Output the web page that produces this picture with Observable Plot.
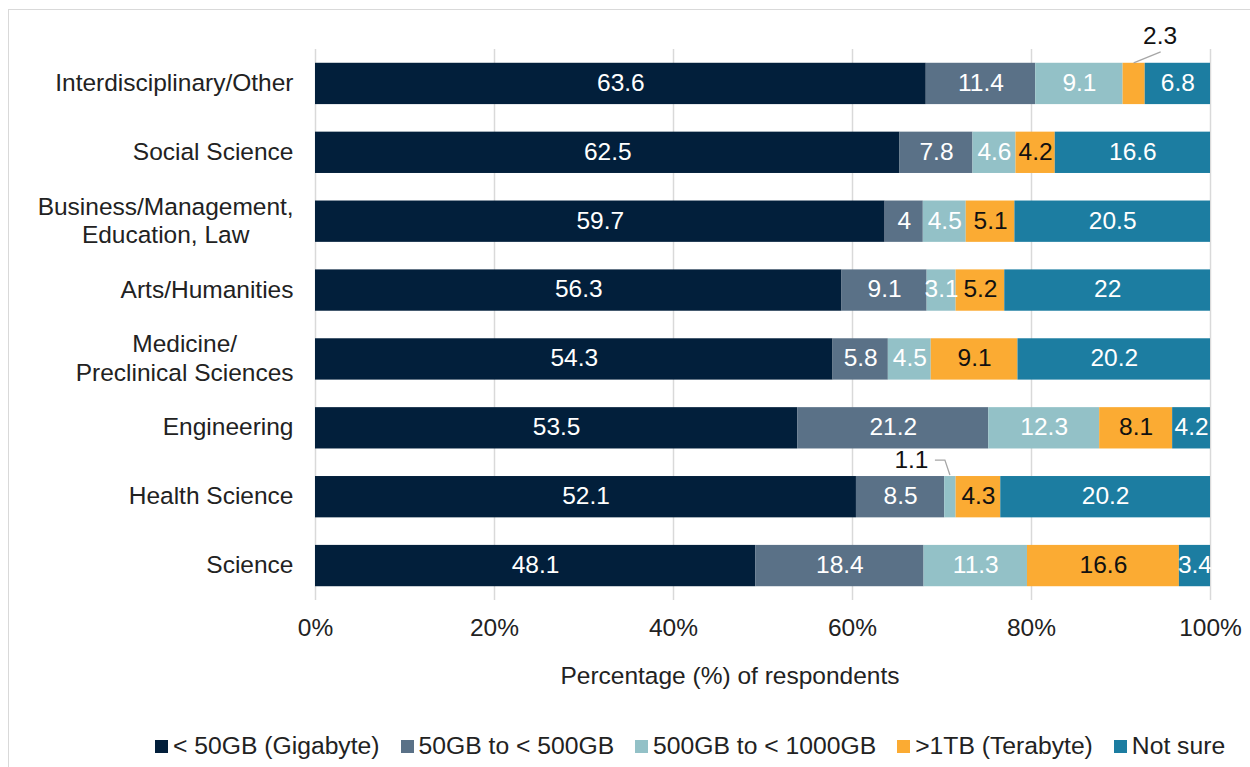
<!DOCTYPE html>
<html>
<head>
<meta charset="utf-8">
<script src="https://cdn.jsdelivr.net/npm/d3@7"></script>
<script src="https://cdn.jsdelivr.net/npm/@observablehq/plot@0.6"></script>
<style>
  html, body { margin: 0; padding: 0; background: #fff; overflow: hidden; }
  body { font-family: "Liberation Sans", Arial, sans-serif; width: 1250px; height: 767px; position: relative; }
  #frame { position: absolute; left: 8px; top: 9px; width: 1300px; height: 800px; border: 1px solid #d9d9d9; pointer-events: none; }
  #legend { height: 30px; margin-top: 26px; padding-left: 155px; display: flex; align-items: center;
            font-size: 24.7px; color: #222; white-space: nowrap; }
  .item { display: flex; align-items: center; margin-right: 21px; }
  .sw { width: 13px; height: 13px; margin-right: 5px; flex: none; }
</style>
</head>
<body>
<div id="chart"></div>
<div id="legend"></div>
<div id="frame"></div>
<script>
// ---- data ----
const categories = [
  "Interdisciplinary/Other",
  "Social Science",
  "Business/Management,\nEducation, Law",
  "Arts/Humanities",
  "Medicine/\nPreclinical Sciences",
  "Engineering",
  "Health Science",
  "Science"
];
const seriesNames = ["< 50GB (Gigabyte)", "50GB to < 500GB", "500GB to < 1000GB", ">1TB (Terabyte)", "Not sure"];
const under50GB   = [63.6, 62.5, 59.7, 56.3, 54.3, 53.5, 52.1, 48.1];
const gb50to500   = [11.4, 7.8, 4, 9.1, 5.8, 21.2, 8.5, 18.4];
const gb500to1000 = [9.1, 4.6, 4.5, 3.1, 4.5, 12.3, 1.1, 11.3];
const over1TB     = [2.3, 4.2, 5.1, 5.2, 9.1, 8.1, 4.3, 16.6];
const notSure     = [6.8, 16.6, 20.5, 22, 20.2, 4.2, 20.2, 3.4];
const seriesValues = [under50GB, gb50to500, gb500to1000, over1TB, notSure];
const seriesColors = ["#021f3b", "#5a7187", "#93c1c7", "#fbab33", "#1c7da1"];
const xTicks = [0, 0.2, 0.4, 0.6, 0.8, 1];
const axisTitle = "Percentage (%) of respondents";
// small segments labelled outside the bar with a leader line
const callouts = [
  {category: categories[0], series: seriesNames[3]},
  {category: categories[6], series: seriesNames[2]}
];

// ---- table ----
const rows = categories.flatMap((c, i) =>
  seriesNames.map((s, j) => ({category: c, series: s, value: seriesValues[j][i]})));
const isCallout = (d, k) => callouts.some((c, i) => (k === undefined || k === i) && c.category === d.category && c.series === d.series);
const darkLabel = seriesNames[3];

function midFraction(cat, ser) {
  const i = categories.indexOf(cat), j = seriesNames.indexOf(ser);
  const vals = seriesValues.map(s => s[i]);
  const total = d3.sum(vals);
  return (d3.sum(vals.slice(0, j)) + vals[j] / 2) / total;
}

const stackOpts = {offset: "normalize", x: "value", y: "category", z: "series"};
const leaderShapes = [[[0, 0], [27, -11]], [[-15, -16], [-5, -16], [0, -1]]];

const chart = Plot.plot({
  width: 1250,
  height: 705,
  marginTop: 49,
  marginBottom: 105,
  marginLeft: 315,
  marginRight: 40,
  style: {fontFamily: '"Liberation Sans", Arial, sans-serif', fontSize: "24.5px", color: "#222", background: "transparent"},
  x: {domain: [0, 1]},
  y: {domain: categories, paddingInner: 0.4, paddingOuter: 0.2, round: false},
  color: {domain: seriesNames, range: seriesColors},
  marks: [
    Plot.gridX({ticks: xTicks, stroke: "#d9d9d9", strokeOpacity: 1, strokeWidth: 1.5}),
    Plot.barX(rows, Plot.stackX({...stackOpts, fill: "series"})),
    Plot.text(rows, Plot.stackX({...stackOpts, fill: "#ffffff", dy: -1,
      text: d => (isCallout(d) || d.series === darkLabel) ? "" : String(d.value)})),
    Plot.text(rows, Plot.stackX({...stackOpts, fill: "#111111", dy: -1,
      text: d => (!isCallout(d) && d.series === darkLabel) ? String(d.value) : ""})),
    Plot.text(rows, Plot.stackX({...stackOpts, fill: "#111111", dx: 26, dy: -48,
      text: d => isCallout(d, 0) ? String(d.value) : ""})),
    Plot.text(rows, Plot.stackX({...stackOpts, fill: "#111111", dx: -39, dy: -37,
      text: d => isCallout(d, 1) ? String(d.value) : ""})),
    (index, scales) => {
      const g = d3.create("svg:g").attr("fill", "none").attr("stroke", "#a6a6a6").attr("stroke-width", 1.3);
      callouts.forEach((c, k) => {
        const xm = scales.x(midFraction(c.category, c.series));
        const top = scales.y(c.category);
        const pts = leaderShapes[k].map(([dx, dy]) => [xm + dx, top + dy]);
        g.append("path").attr("d", d3.line()(pts));
      });
      return g.node();
    },
    Plot.axisX({ticks: xTicks, tickFormat: d3.format(".0%"), tickSize: 0, tickPadding: 18, label: null, fill: "#222"}),
    Plot.axisY({tickSize: 0, tickPadding: 22, label: null, lineHeight: 1.15, dy: -2, fill: "#222"}),
    Plot.text([axisTitle], {text: d => d, frameAnchor: "bottom", dx: -33, dy: 83, fill: "#222"})
  ]
});
document.getElementById("chart").append(chart);

// center-align the lines of multi-line category labels (block stays right-aligned)
chart.querySelectorAll('g[aria-label="y-axis tick label"] text').forEach(t => {
  const spans = t.querySelectorAll("tspan");
  if (spans.length < 2) return;
  const bb = t.getBBox();
  const cx = bb.x + bb.width / 2;
  t.setAttribute("text-anchor", "middle");
  spans.forEach(s => s.setAttribute("x", cx));
});

// ---- legend ----
const legend = d3.select("#legend");
seriesNames.forEach((s, j) => {
  const item = legend.append("div").attr("class", "item");
  item.append("div").attr("class", "sw").style("background", seriesColors[j]);
  item.append("span").text(s);
});
</script>
</body>
</html>
